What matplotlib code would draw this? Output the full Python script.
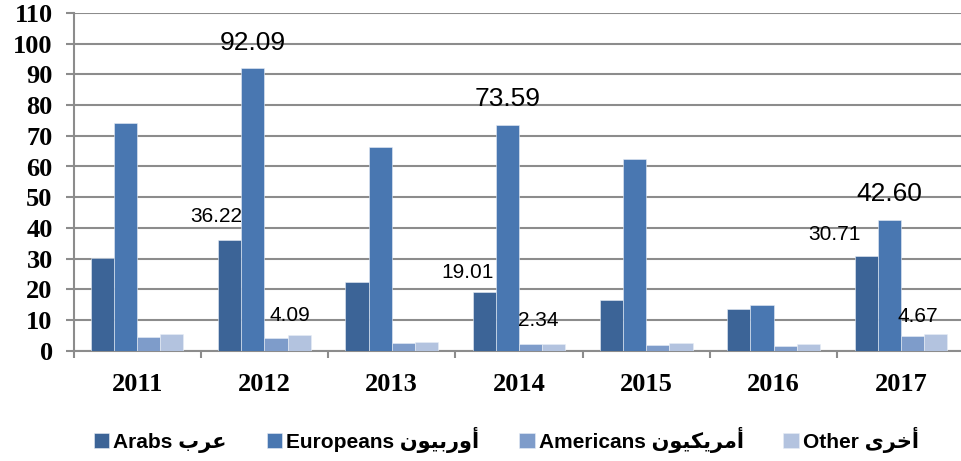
import numpy as np
import matplotlib
matplotlib.use("Agg")
import matplotlib.pyplot as plt

# data
years = ['2011', '2012', '2013', '2014', '2015', '2016', '2017']
arabs = [30.3, 36.22, 22.5, 19.01, 16.5, 13.5, 30.71]
europeans = [74.1, 92.09, 66.3, 73.59, 62.3, 14.9, 42.60]
americans = [4.3, 4.09, 2.6, 2.34, 1.9, 1.5, 4.67]
other = [5.5, 5.2, 2.8, 2.3, 2.4, 2.1, 5.5]

# legend labels (Arabic written in shaped, visual order)
names = ['Arabs \uFE8F\uFEAE\uFECB',
         'Europeans \uFEE5\uFEEE\uFEF4\uFE91\uFEAD\uFEED\uFE83',
         'Americans \uFEE5\uFEEE\uFEF4\uFEDC\uFEF3\uFEAE\uFEE3\uFE83',
         'Other \uFEEF\uFEAE\uFEA7\uFE83']
colors = ['#3C6497', '#4977B1', '#7E9CCA', '#B3C3DF']

series = [arabs, europeans, americans, other]

fig = plt.figure(figsize=(9.61, 4.61), dpi=100)
ax = fig.add_axes([73.5 / 961, 110.3 / 461, 891 / 961, 337.7 / 461])

x = np.arange(len(years))
w = 0.182
for i, vals in enumerate(series):
    ax.bar(x + (i - 1.5) * w, vals, w, color=colors[i], label=names[i],
           edgecolor='#E8EEF6', linewidth=0.4, zorder=3)

ax.set_xlim(-0.5, len(years) - 0.5)
ax.set_ylim(0, 110)
ax.set_yticks(range(0, 111, 10))
ax.yaxis.grid(True, color='#8C8C8C', linewidth=1.5, zorder=0)
ax.set_axisbelow(True)

for s in ['top', 'right']:
    ax.spines[s].set_visible(False)
for s in ['left', 'bottom']:
    ax.spines[s].set_color('#8C8C8C')
    ax.spines[s].set_linewidth(1.5)

ax.tick_params(axis='y', length=6, width=1.5, color='#8C8C8C', pad=9)
ax.set_xticks(x)
ax.set_xticklabels(years)
ax.tick_params(axis='x', length=0, pad=16)
ax.set_xticks(np.arange(-0.5, len(years), 1), minor=True)
ax.tick_params(axis='x', which='minor', length=5, width=1.5, color='#8C8C8C')

for lab in ax.get_yticklabels() + ax.get_xticklabels():
    lab.set_fontfamily('Liberation Serif')
    lab.set_fontweight('bold')
    lab.set_fontsize(19)

# big labels over the Europeans bars
for k in [1, 3, 6]:
    ax.text(x[k] - 0.5 * w, europeans[k] + 8.3, '%.2f' % europeans[k],
            ha='center', va='center', fontsize=19, family='Liberation Sans')

# small labels (year index, series, dx in bar widths, dy)
small = [(1, 0, -0.6, 7.5), (3, 0, -0.7, 6.5), (6, 0, -1.35, 7.3),
         (1, 2, 0.6, 7.3), (3, 2, 0.35, 7.4), (6, 2, 0.25, 6.6)]
for k, s, dx, dy in small:
    v = series[s][k]
    ax.text(x[k] + (s - 1.5) * w + dx * w, v + dy, '%.2f' % v,
            ha='center', va='center', fontsize=15, family='Liberation Sans')

leg = fig.legend(loc='center', bbox_to_anchor=(0.527, 0.046), ncol=4,
                 frameon=False, handlelength=0.75, handleheight=0.75,
                 handletextpad=0.2, columnspacing=1.9,
                 prop={'family': ['Liberation Sans', 'DejaVu Sans'],
                       'weight': 'bold', 'size': 15})

fig.savefig('out.png', dpi=100)
